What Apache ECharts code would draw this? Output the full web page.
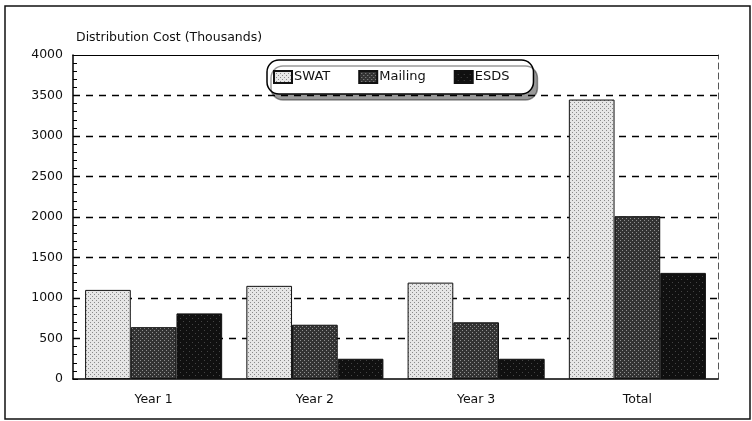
<!DOCTYPE html>
<html lang="en">
<head>
    <meta charset="UTF-8">
    <title>Distribution Cost</title>
    <script src="https://cdn.jsdelivr.net/npm/echarts@6.0.0/dist/echarts.min.js"></script>
    <style>
        html, body { margin: 0; padding: 0; background: #fff; }
        #main { width: 752px; height: 421px; }
    </style>
</head>
<body>
    <div id="main"></div>
    <script type="text/javascript">
        // data
        var categories = ['Year 1', 'Year 2', 'Year 3', 'Total'];
        var seriesNames = ['SWAT', 'Mailing', 'ESDS'];
        var swatValues = [1100, 1150, 1190, 3450];
        var mailingValues = [640, 670, 700, 2010];
        var esdsValues = [810, 250, 250, 1310];

        var FONT = '"DejaVu Sans", sans-serif';

        // little stipple tiles, like the printed halftone
        function stipple(bg, dot, step) {
            var c = document.createElement('canvas');
            c.width = step * 2; c.height = step * 2;
            var ctx = c.getContext('2d');
            ctx.fillStyle = bg;
            ctx.fillRect(0, 0, c.width, c.height);
            ctx.fillStyle = dot;
            ctx.fillRect(0, 0, 1, 1);
            ctx.fillRect(step, step, 1, 1);
            return { image: c, repeat: 'repeat' };
        }

        var fills = [
            stipple('#e6e6e6', '#8a8a8a', 2),
            stipple('#333333', '#8f8f8f', 2),
            stipple('#101010', '#444444', 3)
        ];
        var valueLists = [swatValues, mailingValues, esdsValues];

        var chart = echarts.init(document.getElementById('main'));

        var option = {
            animation: false,
            backgroundColor: '#fff',
            textStyle: { fontFamily: FONT },
            graphic: [
                {
                    type: 'rect',
                    shape: { x: 5, y: 6, width: 745, height: 413 },
                    style: { fill: 'none', stroke: '#111', lineWidth: 1.5 },
                    silent: true
                },
                {
                    type: 'text',
                    left: 76, top: 31,
                    style: {
                        text: 'Distribution Cost (Thousands)',
                        fontFamily: FONT, fontSize: 12.5, fill: '#111'
                    }
                }
            ],
            legend: {
                data: seriesNames,
                left: 267,
                top: 60,
                icon: 'rect',
                itemWidth: 18,
                itemHeight: 12,
                itemGap: 28,
                padding: [10, 24, 10, 6],
                borderColor: '#000',
                borderWidth: 1.5,
                borderRadius: 12,
                backgroundColor: '#fff',
                shadowColor: 'rgba(0,0,0,0.4)',
                shadowBlur: 0,
                shadowOffsetX: 4,
                shadowOffsetY: 6,
                textStyle: { fontFamily: FONT, fontSize: 13, color: '#111', padding: [0, 0, 0, -3] }
            },
            grid: { left: 73, right: 34, top: 55, bottom: 42 },
            xAxis: [
                {
                    type: 'category',
                    data: categories,
                    axisLine: { lineStyle: { color: '#000', width: 1.5 } },
                    axisTick: { show: false },
                    axisLabel: { color: '#111', fontSize: 12.5, fontFamily: FONT, margin: 14 }
                },
                {
                    type: 'category',
                    position: 'top',
                    data: categories,
                    axisLine: { show: true, onZero: false, lineStyle: { color: '#000', width: 1.2 } },
                    axisTick: { show: false },
                    axisLabel: { show: false }
                }
            ],
            yAxis: [
                {
                    type: 'value',
                    min: 0,
                    max: 4000,
                    interval: 500,
                    axisLine: { show: true, lineStyle: { color: '#000', width: 1.5 } },
                    axisTick: { show: true, inside: true, length: 5, lineStyle: { color: '#000' } },
                    minorTick: { show: true, splitNumber: 5, length: 4, lineStyle: { color: '#000' } },
                    axisLabel: {
                        color: '#111', fontSize: 12.5, fontFamily: FONT, margin: 10,
                        formatter: function (v) { return String(v); }
                    },
                    splitLine: {
                        show: true,
                        showMinLine: false,
                        showMaxLine: false,
                        lineStyle: { color: '#000', type: [7, 6], width: 1.3 }
                    }
                },
                {
                    type: 'value',
                    position: 'right',
                    min: 0,
                    max: 4000,
                    interval: 500,
                    axisLine: { show: true, onZero: false, lineStyle: { color: '#555', type: [6, 4], width: 1 } },
                    axisTick: { show: false },
                    axisLabel: { show: false },
                    splitLine: { show: false }
                }
            ],
            series: seriesNames.map(function (name, i) {
                return {
                    name: name,
                    type: 'bar',
                    data: valueLists[i],
                    barGap: '0%',
                    barCategoryGap: '15%',
                    itemStyle: {
                        color: fills[i],
                        borderColor: '#111',
                        borderWidth: 1
                    }
                };
            })
        };

        chart.setOption(option);
    </script>
</body>
</html>
